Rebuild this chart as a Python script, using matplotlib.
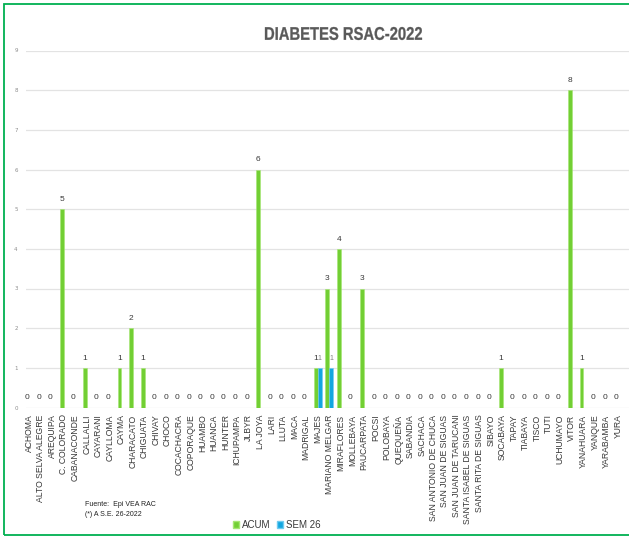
import numpy as np
import matplotlib
matplotlib.use("Agg")
import matplotlib.pyplot as plt
from matplotlib.patches import Rectangle, Patch, PathPatch
from matplotlib.textpath import TextPath
from matplotlib.font_manager import FontProperties
from matplotlib.transforms import Affine2D, IdentityTransform

# districts shown on the x axis (the chart is cut off after YURA)
districts = [
    "ACHOMA", "ALTO SELVA ALEGRE", "AREQUIPA", "C. COLORADO", "CABANACONDE",
    "CALLALLI", "CAYARANI", "CAYLLOMA", "CAYMA", "CHARACATO", "CHIGUATA",
    "CHIVAY", "CHOCO", "COCACHACRA", "COPORAQUE", "HUAMBO", "HUANCA",
    "HUNTER", "ICHUPAMPA", "JLBYR", "LA JOYA", "LARI", "LLUTA", "MACA",
    "MADRIGAL", "MAJES", "MARIANO MELGAR", "MIRAFLORES", "MOLLEBAYA",
    "PAUCARPATA", "POCSI", "POLOBAYA", "QUEQUEÑA", "SABANDIA", "SACHACA",
    "SAN ANTONIO DE CHUCA", "SAN JUAN DE SIGUAS", "SAN JUAN DE TARUCANI",
    "SANTA ISABEL DE SIGUAS", "SANTA RITA DE SIGUAS", "SIBAYO", "SOCABAYA",
    "TAPAY", "TIABAYA", "TISCO", "TUTI", "UCHUMAYO", "VITOR", "YANAHUARA",
    "YANQUE", "YARABAMBA", "YURA",
]
acum = [0, 0, 0, 5, 0, 1, 0, 0, 1, 2, 1,
        0, 0, 0, 0, 0, 0, 0, 0, 0, 6, 0, 0, 0,
        0, 1, 3, 4, 0, 3, 0, 0, 0, 0, 0,
        0, 0, 0, 0, 0, 0, 1, 0, 0, 0, 0, 0, 8, 1,
        0, 0, 0]
sem26 = [0] * len(districts)
sem26[districts.index("MAJES")] = 1
sem26[districts.index("MARIANO MELGAR")] = 1

title = "DIABETES RSAC-2022"
source_lines = ["Fuente:  Epi VEA RAC", "(*) A S.E. 26-2022"]

green = "#72CF34"
blue = "#12A6E0"
txt = "#383838"
sans = "Liberation Sans"

W, H = 629, 538
fig = plt.figure(figsize=(W / 100, H / 100), dpi=100)

# plot area runs past the right edge of the picture, like the reference
x_lo, x_hi = -0.26, 53.0
left_px, step_px = 26, 11.55
ax_w = (x_hi - x_lo) * step_px
ax = fig.add_axes([left_px / W, (H - 407.5) / H, ax_w / W, 357 / H])

x = np.arange(len(districts))
bw = 0.33
ax.bar(x - bw / 2, acum, width=bw, color=green, edgecolor="#A6E673", linewidth=0.4, zorder=3)
ax.bar(x + bw / 2, sem26, width=bw, color=blue, edgecolor="#6FCBF0", linewidth=0.4, zorder=3)

for xi, v in zip(x, acum):
    ax.annotate(str(v), (xi - bw / 2, v), xytext=(0, 7), textcoords="offset points",
                ha="center", va="center", fontsize=6, color=txt, family=sans)
for xi, v in zip(x, sem26):
    if v > 0:
        ax.annotate(str(v), (xi + bw / 2, v), xytext=(0, 7), textcoords="offset points",
                    ha="center", va="center", fontsize=5, color="#7F7F7F", family=sans)

ax.set_xlim(x_lo, x_hi)
ax.set_ylim(0, 9)
ax.set_yticks(range(10))
ax.set_xticks(x)
ax.set_xticklabels(districts, rotation=90, fontsize=6.2, color=txt, family=sans)
ax.tick_params(axis="x", length=0, pad=5)
ax.tick_params(axis="y", length=0, pad=6, labelsize=4, labelcolor="#8C8C8C")
ax.grid(axis="y", color="#E3E3E3", linewidth=0.9, zorder=0)
for s in ax.spines.values():
    s.set_visible(False)

# title in a condensed bold look: squeeze a text path horizontally
tp = TextPath((0, 0), title, size=18, prop=FontProperties(family=sans, weight="bold"))
bb = tp.get_extents()
x0, x1, cap_top, cap_bot = 265, 422, 27, 40  # target box in pixels (from top)
sx = (x1 - x0) / bb.width
sy = (cap_bot - cap_top) / bb.height
tr = Affine2D().translate(-bb.x0, -bb.y0).scale(sx, sy).translate(x0, H - cap_bot)
fig.patches.append(PathPatch(tr.transform_path(tp), transform=IdentityTransform(),
                             facecolor="#595959", edgecolor="#595959", linewidth=0.2))

fig.text(85 / W, 1 - 504 / H, source_lines[0], ha="left", va="center",
         fontsize=5, color="#202020", family=sans)
fig.text(85 / W, 1 - 514 / H, source_lines[1], ha="left", va="center",
         fontsize=5, color="#202020", family=sans)

handles = [Patch(facecolor=green, edgecolor="#A6E673", label="ACUM"),
           Patch(facecolor=blue, edgecolor="#6FCBF0", label="SEM 26")]
fig.legend(handles=handles, loc="center", bbox_to_anchor=(277 / W, 1 - 525 / H),
           ncol=2, frameon=False, handlelength=0.6, handleheight=0.6,
           handletextpad=0.3, columnspacing=0.7, labelcolor=txt,
           prop={"family": sans, "size": 7})

# green frame around the chart (right side is cut off)
fig.patches.append(Rectangle((4 / W, 1 - 535 / H), 700 / W, 531 / H,
                             transform=fig.transFigure, fill=False,
                             edgecolor="#00B050", linewidth=1.3))

fig.savefig("out.png", dpi=100)
